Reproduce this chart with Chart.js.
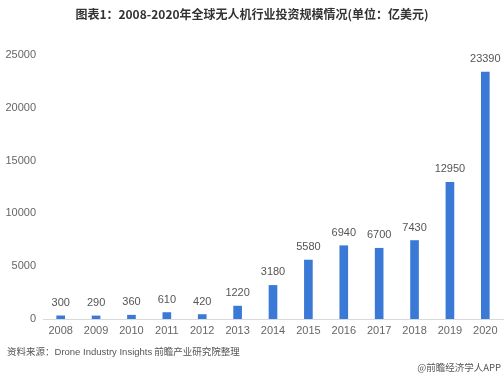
<!DOCTYPE html>
<html>
<head>
<meta charset="utf-8">
<script src="https://cdn.jsdelivr.net/npm/chart.js@4/dist/chart.umd.min.js"></script>
<style>
html,body{margin:0;padding:0;background:#fff;width:504px;height:377px;overflow:hidden;}
#wrap{position:absolute;left:0;top:0;width:504px;height:377px;}
.t{position:absolute;white-space:nowrap;font-family:"Noto Sans CJK SC","Liberation Sans",sans-serif;}
#title{left:0;width:504px;text-align:center;top:5px;font-size:12px;font-weight:bold;color:#333;line-height:18px;}
#src{left:7px;top:344px;font-size:9.5px;color:#555;line-height:14px;}
#src .en{font-family:"Liberation Sans",Arial,sans-serif;}
#wm{right:3px;top:360px;font-size:9.5px;color:#555;line-height:14px;}
</style>
</head>
<body>
<div id="wrap"><canvas id="c" width="504" height="377"></canvas></div>
<div class="t" id="title">图表1：2008-2020年全球无人机行业投资规模情况(单位：亿美元)</div>
<div class="t" id="src">资料来源：<span class="en">Drone Industry Insights</span> 前瞻产业研究院整理</div>
<div class="t" id="wm">@前瞻经济学人APP</div>
<script>
const years = ['2008','2009','2010','2011','2012','2013','2014','2015','2016','2017','2018','2019','2020'];
const investment = [300,290,360,610,420,1220,3180,5580,6940,6700,7430,12950,23390];
const yTicks = [0,5000,10000,15000,20000,25000];

const labelPlugin = {
  id:'valueLabels',
  afterDatasetsDraw(chart){
    const ctx = chart.ctx;
    const meta = chart.getDatasetMeta(0);
    ctx.save();
    ctx.font = '11px "Liberation Sans", Arial, sans-serif';
    ctx.fillStyle = '#555';
    ctx.textAlign = 'center';
    ctx.textBaseline = 'middle';
    meta.data.forEach((bar,i)=>{
      ctx.fillText(String(chart.data.datasets[0].data[i]), bar.x, bar.y - 13);
    });
    ctx.restore();
  }
};

new Chart(document.getElementById('c'),{
  type:'bar',
  data:{labels:years,datasets:[{data:investment,backgroundColor:'#3a7ad6',barThickness:8}]},
  options:{
    responsive:false,animation:false,
    layout:{padding:{top:55,bottom:38,right:1,left:0}},
    plugins:{legend:{display:false},tooltip:{enabled:false}},
    scales:{
      x:{
        grid:{display:false,drawTicks:false},
        border:{display:true,color:'#d9d9d9'},
        ticks:{color:'#666',font:{family:'"Liberation Sans", Arial, sans-serif',size:11},padding:5,maxRotation:0,autoSkip:false},
        afterFit(s){s.height=20;}
      },
      y:{
        min:0,max:25000,
        grid:{display:false,drawTicks:false},
        border:{display:false},
        afterBuildTicks(s){s.ticks = yTicks.map(v=>({value:v}));},
        ticks:{color:'#666',font:{family:'"Liberation Sans", Arial, sans-serif',size:11},padding:7,callback:(v)=>String(v)},
        afterFit(s){s.width=43;}
      }
    }
  },
  plugins:[labelPlugin]
});
</script>
</body>
</html>
